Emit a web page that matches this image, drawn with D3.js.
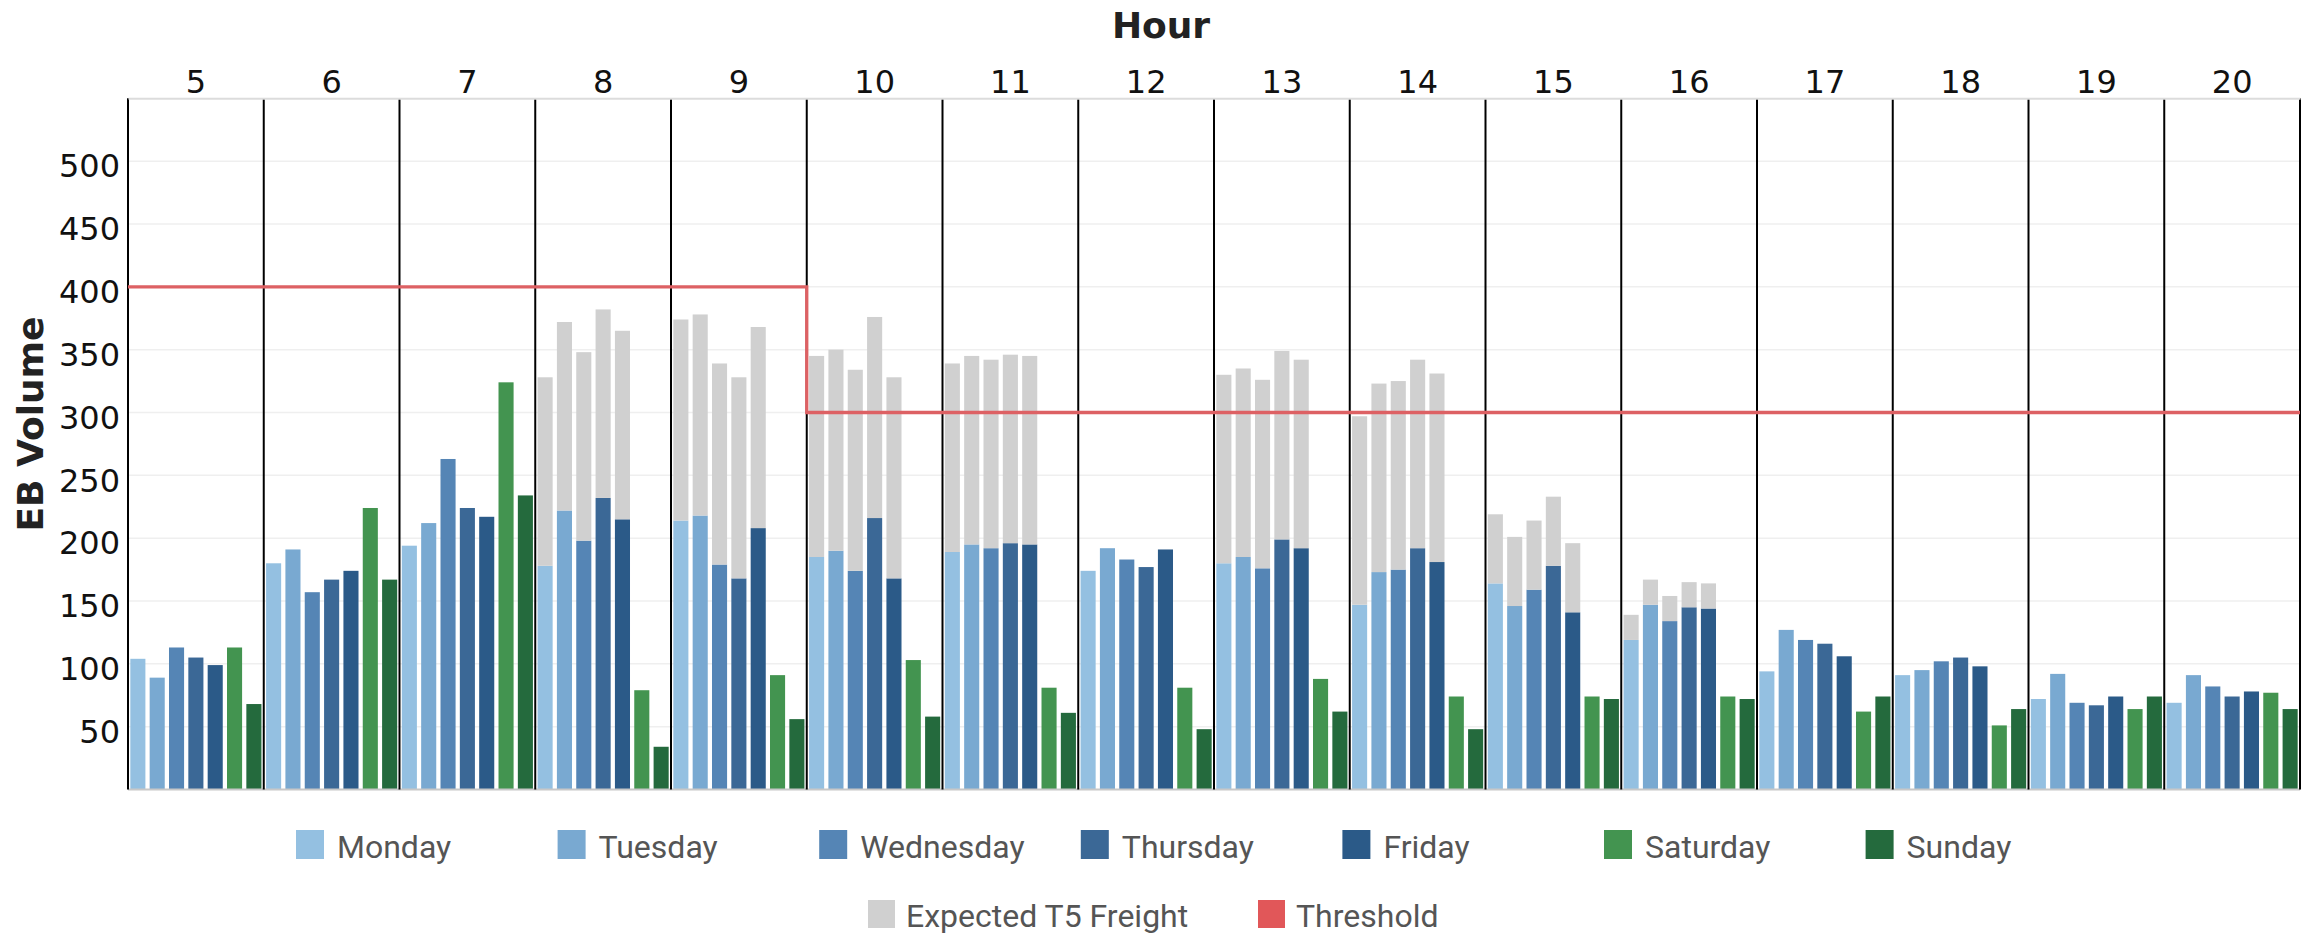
<!DOCTYPE html>
<html>
<head>
<meta charset="utf-8">
<script src="https://cdn.jsdelivr.net/npm/d3@7"></script>
<style>
  body { margin: 0; background: #fff; }
  svg text { font-family: "DejaVu Sans", sans-serif; }
  .legend text { font-family: Roboto, sans-serif; fill: #555; font-size: 32px; }
</style>
</head>
<body>
<svg id="chart" width="2315" height="934"></svg>
<script>
var hours = [5, 6, 7, 8, 9, 10, 11, 12, 13, 14, 15, 16, 17, 18, 19, 20];
var days = ["Monday", "Tuesday", "Wednesday", "Thursday", "Friday", "Saturday", "Sunday"];

// EB volume by day, one value per hour (5..20)
var monday    = [104, 180, 194, 178, 214, 185, 189, 174, 180, 147, 164, 119,  94,  91,  72,  69];
var tuesday   = [ 89, 191, 212, 222, 218, 190, 195, 192, 185, 173, 146, 147, 127,  95,  92,  91];
var wednesday = [113, 157, 263, 198, 179, 174, 192, 183, 176, 175, 159, 134, 119, 102,  69,  82];
var thursday  = [105, 167, 224, 232, 168, 216, 196, 177, 199, 192, 178, 145, 116, 105,  67,  74];
var friday    = [ 99, 174, 217, 215, 208, 168, 195, 191, 192, 181, 141, 144, 106,  98,  74,  78];
var saturday  = [113, 224, 324,  79,  91, 103,  81,  81,  88,  74,  74,  74,  62,  51,  64,  77];
var sunday    = [ 68, 167, 234,  34,  56,  58,  61,  48,  62,  48,  72,  72,  74,  64,  74,  64];

// expected T5 freight added on weekdays, per hour
var freight   = [  0,   0,   0, 150, 160, 160, 150,   0, 150, 150,  55,  20,   0,   0,   0,   0];
var threshold = [400, 400, 400, 400, 400, 300, 300, 300, 300, 300, 300, 300, 300, 300, 300, 300];
var freightDays = ["Monday", "Tuesday", "Wednesday", "Thursday", "Friday"];
var yTicks = [50, 100, 150, 200, 250, 300, 350, 400, 450, 500];

var volumes = [monday, tuesday, wednesday, thursday, friday, saturday, sunday];
var dayColors = ["#94c0e1", "#79a9d1", "#5585b5", "#3b6896", "#2b5a88", "#439450", "#246a3d"];
var freightColor = "#d0d0d0";
var thresholdColor = "#e15759";

var svg = d3.select("#chart");
var plot = {left: 128, right: 2300, top: 98.3, bottom: 789.5};

var x = d3.scaleBand().domain(hours).range([plot.left, plot.right]);
var xDay = d3.scaleBand().domain(days).range([0, x.bandwidth()])
  .paddingInner(0.22).paddingOuter(0.12);
var y = d3.scaleLinear().domain([0, 550]).range([plot.bottom, plot.top]);
var color = d3.scaleOrdinal().domain(days).range(dayColors);

var records = [];
days.forEach(function(day, di) {
  hours.forEach(function(h, hi) {
    records.push({
      hour: h,
      day: day,
      value: volumes[di][hi],
      freight: freightDays.indexOf(day) >= 0 ? freight[hi] : 0
    });
  });
});

// gridlines
svg.append("g").selectAll("line").data(yTicks).enter().append("line")
  .attr("x1", plot.left).attr("x2", plot.right)
  .attr("y1", function(d) { return y(d); })
  .attr("y2", function(d) { return y(d); })
  .attr("stroke", "#efefef").attr("stroke-width", 1.5);

// bars
var bars = svg.append("g");
bars.selectAll("rect.base").data(records).enter().append("rect")
  .attr("class", "base")
  .attr("x", function(d) { return x(d.hour) + xDay(d.day); })
  .attr("width", xDay.bandwidth())
  .attr("y", function(d) { return y(d.value); })
  .attr("height", function(d) { return y(0) - y(d.value); })
  .attr("fill", function(d) { return color(d.day); });

bars.selectAll("rect.freight").data(records.filter(function(d) { return d.freight > 0; }))
  .enter().append("rect")
  .attr("class", "freight")
  .attr("x", function(d) { return x(d.hour) + xDay(d.day); })
  .attr("width", xDay.bandwidth())
  .attr("y", function(d) { return y(d.value + d.freight); })
  .attr("height", function(d) { return y(d.value) - y(d.value + d.freight); })
  .attr("fill", freightColor);

// bottom line
svg.append("line")
  .attr("x1", plot.left).attr("x2", plot.right)
  .attr("y1", y(0)).attr("y2", y(0))
  .attr("stroke", "#c8c8c8").attr("stroke-width", 2);

// hour pane separators
var edges = hours.map(function(h) { return x(h); }).concat([plot.right]);
svg.append("g").selectAll("line").data(edges).enter().append("line")
  .attr("x1", function(d) { return d; }).attr("x2", function(d) { return d; })
  .attr("y1", plot.top).attr("y2", y(0))
  .attr("stroke", "#000").attr("stroke-width", 2);

// threshold step line
var thrPoints = hours.map(function(h, i) { return [x(h), y(threshold[i])]; });
thrPoints.push([plot.right, y(threshold[threshold.length - 1])]);
svg.append("path")
  .attr("d", d3.line().curve(d3.curveStepAfter)(thrPoints))
  .attr("fill", "none")
  .attr("stroke", "#dd6164")
  .attr("stroke-width", 3.3);

// hour labels on top
var hourAxis = svg.append("g")
  .attr("transform", "translate(0," + plot.top + ")")
  .call(d3.axisTop(x).tickSize(0).tickSizeOuter(0).tickPadding(5.6));
hourAxis.select(".domain").attr("stroke", "#dcdcdc").attr("stroke-width", 2);
hourAxis.selectAll("text").attr("font-size", 32).attr("fill", "#111")
  .style("font-family", "DejaVu Sans");

// y axis labels
var volAxis = svg.append("g")
  .attr("transform", "translate(" + plot.left + ",0)")
  .call(d3.axisLeft(y).tickValues(yTicks).tickSize(0).tickPadding(8));
volAxis.select(".domain").remove();
volAxis.selectAll("text").attr("font-size", 32).attr("fill", "#111")
  .attr("dy", "0.49em")
  .style("font-family", "DejaVu Sans");

// titles
svg.append("text")
  .attr("x", 1161).attr("y", 38.3)
  .attr("text-anchor", "middle")
  .attr("font-size", 36).attr("font-weight", "bold").attr("fill", "#222")
  .text("Hour");

svg.append("text")
  .attr("transform", "translate(43,424) rotate(-90)")
  .attr("text-anchor", "middle")
  .attr("font-size", 36).attr("font-weight", "bold").attr("fill", "#222")
  .text("EB Volume");

// legend
var legend = svg.append("g").attr("class", "legend");
var row1 = legend.selectAll("g.day").data(days).enter().append("g")
  .attr("class", "day")
  .attr("transform", function(d, i) { return "translate(" + (296 + i * 261.6) + ",830)"; });
row1.append("rect").attr("width", 28).attr("height", 29)
  .attr("fill", function(d) { return color(d); });
row1.append("text").attr("x", 41).attr("y", 28).text(function(d) { return d; });

var extras = [
  {label: "Expected T5 Freight", fill: freightColor},
  {label: "Threshold", fill: thresholdColor}
];
var row2 = legend.selectAll("g.extra").data(extras).enter().append("g")
  .attr("class", "extra")
  .attr("transform", function(d, i) { return "translate(" + (868 + i * 390) + ",900)"; });
row2.append("rect").attr("width", 27).attr("height", 28)
  .attr("fill", function(d) { return d.fill; });
row2.append("text").attr("x", 38).attr("y", 27).text(function(d) { return d.label; });
</script>
</body>
</html>
